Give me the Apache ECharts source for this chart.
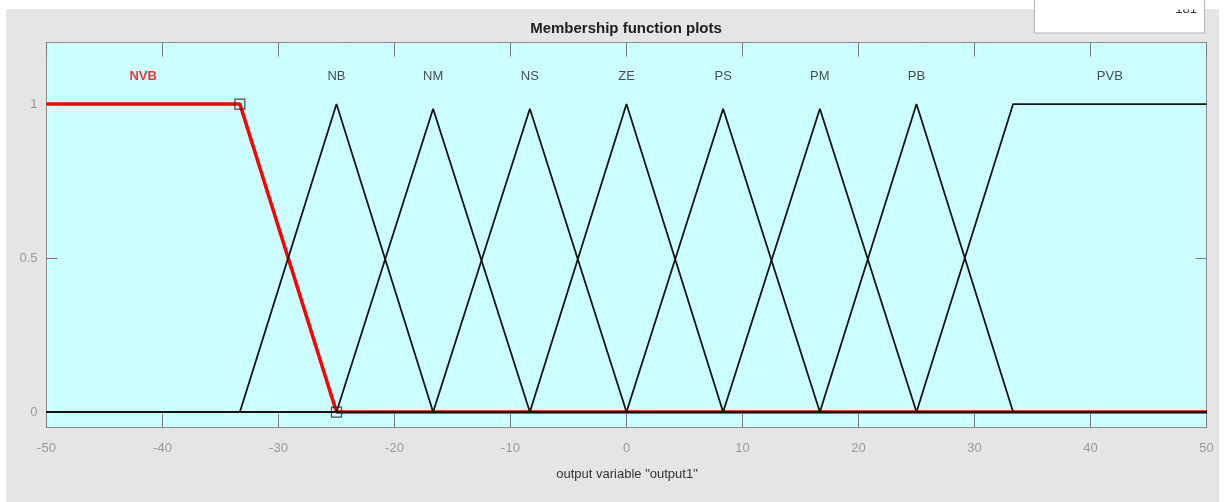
<!DOCTYPE html>
<html>
<head>
<meta charset="utf-8">
<style>
html,body{margin:0;padding:0;background:#ffffff;}
#chart{width:1225px;height:502px;}
</style>
<script src="https://cdn.jsdelivr.net/npm/echarts@6/dist/echarts.min.js"></script>
</head>
<body>
<div id="chart"></div>
<script>
// ---- data ----
const categories = ['NVB', 'NB', 'NM', 'NS', 'ZE', 'PS', 'PM', 'PB', 'PVB'];
const mfVertX = [
  [-50, -33.33, -25, 50],
  [-50, -33.33, -25, -16.67, 50],
  [-50, -25, -16.67, -8.33, 50],
  [-50, -16.67, -8.33, 0, 50],
  [-50, -8.33, 0, 8.33, 50],
  [-50, 0, 8.33, 16.67, 50],
  [-50, 8.33, 16.67, 25, 50],
  [-50, 16.67, 25, 33.33, 50],
  [-50, 25, 33.33, 50]
];
const mfVertY = [
  [1, 1, 0, 0],
  [0, 0, 1, 0, 0],
  [0, 0, 0.985, 0, 0],
  [0, 0, 0.985, 0, 0],
  [0, 0, 1, 0, 0],
  [0, 0, 0.985, 0, 0],
  [0, 0, 0.985, 0, 0],
  [0, 0, 1, 0, 0],
  [0, 0, 1, 1]
];
const labelX = [-41.67, -25, -16.67, -8.33, 0, 8.33, 16.67, 25, 41.67];
const labelY = 1.09;
const selectedIndex = 0;
const markerX = [-33.33, -25];
const markerY = [1, 0];
const yTicks = [0, 0.5, 1];

// ---- chart ----
const FONT = '"Liberation Sans", Arial, Helvetica, sans-serif';
const chart = echarts.init(document.getElementById('chart'));

const series = [];
// selected (red) first so black lines sit on top
const order = [selectedIndex].concat(categories.map((c, i) => i).filter(i => i !== selectedIndex));
order.forEach(i => {
  const sel = i === selectedIndex;
  series.push({
    type: 'line',
    name: categories[i],
    data: mfVertX[i].map((x, k) => [x, mfVertY[i][k]]),
    showSymbol: false,
    symbol: 'none',
    silent: true,
    animation: false,
    lineStyle: { color: sel ? '#ff0000' : '#141414', width: sel ? 3.5 : 1.8 },
    z: sel ? 2 : 3
  });
});
// membership labels
series.push({
  type: 'scatter',
  data: labelX.map((x, i) => ({
    value: [x, labelY],
    name: categories[i],
    label: {
      show: true,
      position: 'inside',
      formatter: categories[i],
      color: i === selectedIndex ? '#ff0000' : '#222222',
      fontWeight: i === selectedIndex ? 'bold' : 'normal',
      fontSize: 13,
      fontFamily: FONT
    }
  })),
  symbolSize: 1,
  itemStyle: { color: 'rgba(0,0,0,0)' },
  silent: true,
  animation: false,
  z: 4
});
// vertex markers on the selected MF
series.push({
  type: 'scatter',
  data: markerX.map((x, i) => [x, markerY[i]]),
  symbol: 'rect',
  symbolSize: 10,
  itemStyle: { color: 'rgba(0,0,0,0)', borderColor: '#222222', borderWidth: 1.2 },
  silent: true,
  animation: false,
  z: 5
});

const tickStyle = { color: '#7a7a7a', width: 1 };

chart.setOption({
  backgroundColor: '#ffffff',
  animation: false,
  grid: {
    left: 46.5, right: 18.5, top: 42.5, bottom: 74.5,
    show: true,
    backgroundColor: '#ccffff',
    borderColor: '#8c8c8c',
    borderWidth: 1
  },
  xAxis: [{
    type: 'value', min: -50, max: 50, interval: 10,
    position: 'bottom',
    axisLine: { show: true, onZero: false, lineStyle: { color: '#8c8c8c' } },
    axisTick: { show: true, inside: true, length: 14, lineStyle: tickStyle },
    axisLabel: { color: '#9a9a9a', fontSize: 13, fontFamily: FONT, margin: 14 },
    splitLine: { show: false }
  }, {
    type: 'value', min: -50, max: 50, interval: 10,
    position: 'top',
    axisLine: { show: true, onZero: false, lineStyle: { color: '#8c8c8c' } },
    axisTick: { show: true, inside: true, length: 14, lineStyle: tickStyle },
    axisLabel: { show: false },
    splitLine: { show: false }
  }],
  yAxis: [{
    type: 'value', min: -0.05, max: 1.2,
    position: 'left',
    axisLine: { show: true, onZero: false, lineStyle: { color: '#8c8c8c' } },
    axisTick: { show: true, inside: true, length: 11, lineStyle: tickStyle, customValues: yTicks },
    axisLabel: { color: '#9a9a9a', fontSize: 13, fontFamily: FONT, margin: 9, customValues: yTicks,
      formatter: v => String(v) },
    splitLine: { show: false }
  }, {
    type: 'value', min: -0.05, max: 1.2,
    position: 'right',
    axisLine: { show: true, onZero: false, lineStyle: { color: '#8c8c8c' } },
    axisTick: { show: true, inside: true, length: 11, lineStyle: tickStyle, customValues: yTicks },
    axisLabel: { show: false },
    splitLine: { show: false }
  }],
  graphic: [
    { type: 'rect', z: -10, silent: true, shape: { x: 6, y: 9, width: 1213, height: 493 }, style: { fill: '#e5e5e5' } },
    { type: 'rect', z: 10, silent: true, shape: { x: 1034.5, y: -1, width: 170, height: 34 }, style: { fill: '#ffffff', stroke: '#b4b4b4', lineWidth: 1 } },
    { type: 'text', z: 11, silent: true, style: { text: '181', x: 1197, y: 16, textAlign: 'right', textVerticalAlign: 'bottom', fill: '#333333', font: '13px ' + FONT } },
    { type: 'rect', z: 12, silent: true, shape: { x: 1035, y: 0, width: 169, height: 9.5 }, style: { fill: '#ffffff' } },
    { type: 'text', z: 10, silent: true, style: { text: 'Membership function plots', x: 626, y: 29, textAlign: 'center', textVerticalAlign: 'middle', fill: '#1e1e1e', font: 'bold 15px ' + FONT } },
    { type: 'text', z: 10, silent: true, style: { text: 'output variable "output1"', x: 627, y: 474, textAlign: 'center', textVerticalAlign: 'middle', fill: '#333333', font: '13px ' + FONT } }
  ],
  series: series
});
</script>
</body>
</html>
